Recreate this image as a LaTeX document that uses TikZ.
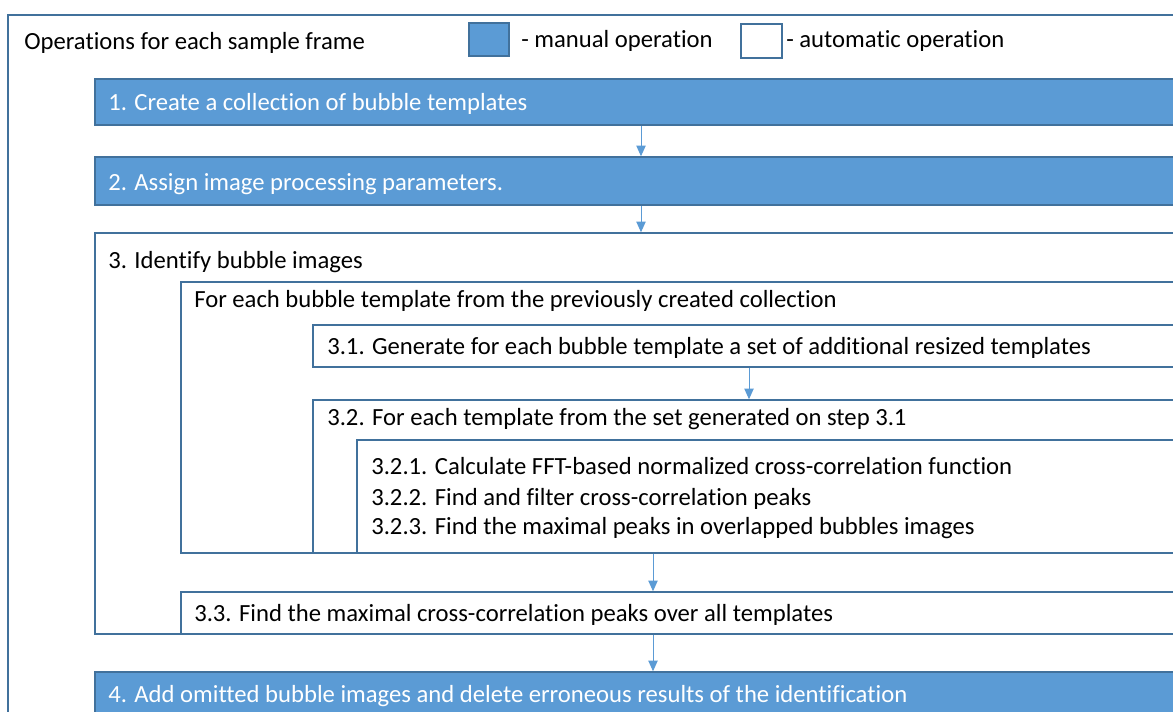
\documentclass[tikz,border=0pt]{standalone}
\usepackage{fontspec}
\setmainfont{Carlito}[Ligatures=NoCommon]
\usetikzlibrary{arrows.meta,fit}
\definecolor{opblue}{RGB}{91,155,213}
\definecolor{opline}{RGB}{65,113,156}
\tikzset{
  manual/.style={draw=opline, fill=opblue, line width=1.1pt, inner sep=0pt},
  automatic/.style={draw=opline, fill=white, line width=1.1pt, inner sep=0pt},
  optext/.style={anchor=base west, inner sep=0pt, font=\fontsize{18.5}{22}\selectfont},
  flow/.style={draw=opblue, line width=0.75pt, -{Triangle[width=7pt,length=8pt]}}
}
\begin{document}
\begin{tikzpicture}[x=0.75pt,y=0.75pt,yscale=-1,xscale=1]
        \useasboundingbox (0,0) rectangle (1173,711);
        \clip (0,0) rectangle (1173,711);
        %Outer frame
        \node[automatic, fit={(8,15) (1200,740)}] (frame) {};
        % Legend
        \node[manual, fit={(469,23) (509,56)}] (lgman) {};
        \node[automatic, fit={(741,24) (782,58)}] (lgauto) {};
        % Step boxes
        \node[manual, fit={(95,79) (1200,125)}] (b1) {};
        \node[manual, fit={(95,157) (1200,205)}] (b2) {};
        \node[automatic, fit={(95,233) (1200,634)}] (b3) {};
        \node[automatic, fit={(181,282) (1200,553)}] (b3each) {};
        \node[automatic, fit={(313,325) (1200,367)}] (b31) {};
        \node[automatic, fit={(313,400) (1200,553)}] (b32) {};
        \node[automatic, fit={(357,440) (1200,553)}] (b32sub) {};
        \node[automatic, fit={(181,592) (1200,634)}] (b33) {};
        \node[manual, fit={(95,672) (1200,740)}] (b4) {};

        % Text Node
        \node[optext] (title) at (24,49) {Operations for each sample frame};
        \node[optext] (lgmantext) at (521,47) {- manual operation};
        \node[optext] (lgautotext) at (786,47) {- automatic operation};
        \node[optext, white] (t1) at (108,110) {1. Create a collection of bubble templates};
        \node[optext, white] (t2) at (108,190) {2. Assign image processing parameters.};
        \node[optext] (t3) at (108,268) {3. Identify bubble images};
        \node[optext] (t3each) at (194,307) {For each bubble template from the previously created collection};
        \node[optext] (t31) at (327,354) {3.1. Generate for each bubble template a set of additional resized templates};
        \node[optext] (t32) at (327,425) {3.2. For each template from the set generated on step 3.1};
        \node[optext] (t321) at (371,474) {3.2.1. Calculate FFT-based normalized cross-correlation function};
        \node[optext] (t322) at (371,505) {3.2.2. Find and filter cross-correlation peaks};
        \node[optext] (t323) at (371,534) {3.2.3. Find the maximal peaks in overlapped bubbles images};
        \node[optext] (t33) at (194,621) {3.3. Find the maximal cross-correlation peaks over all templates};
        \node[optext, white] (t4) at (108,702) {4. Add omitted bubble images and delete erroneous results of the identification};

        % Arrows
        \coordinate (ax1) at (641,0);
        \coordinate (ax2) at (749,0);
        \coordinate (ax3) at (653,0);
        \draw[flow] (b1.south -| ax1) -- (b2.north -| ax1);
        \draw[flow] (b2.south -| ax1) -- (b3.north -| ax1);
        \draw[flow] (b31.south -| ax2) -- (b32.north -| ax2);
        \draw[flow] (b32.south -| ax3) -- (b33.north -| ax3);
        \draw[flow] (b3.south -| ax3) -- (b4.north -| ax3);
\end{tikzpicture}
\end{document}
